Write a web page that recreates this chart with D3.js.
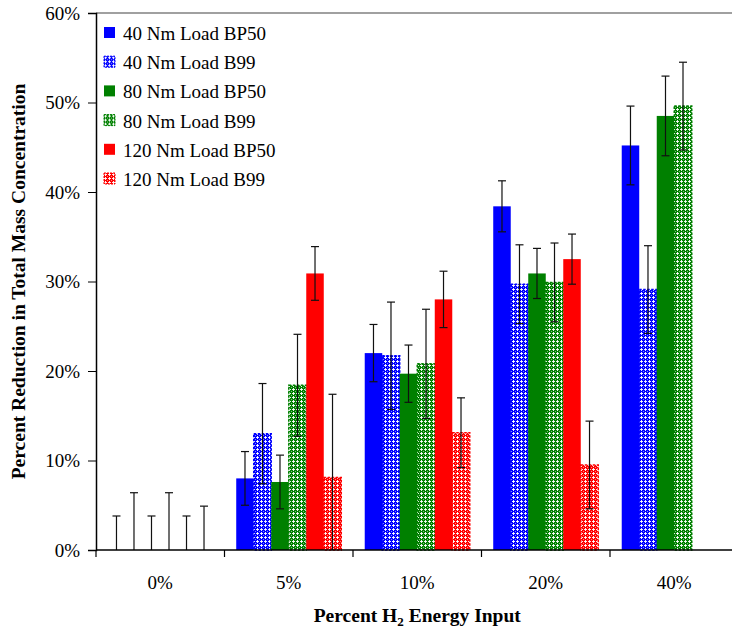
<!DOCTYPE html>
<html lang="en">
<head>
    <meta charset="UTF-8">
    <title>Percent Reduction in Total Mass Concentration</title>
    <script src="https://d3js.org/d3.v7.min.js"></script>
    <style>
        body { margin: 0; background: #fff; }
        svg text { font-family: "Liberation Serif", "Times New Roman", serif; fill: #000; }
    </style>
</head>
<body>
    <svg id="chart" width="732" height="629"></svg>

    <script>
        // Datos
        const categories = ["0%", "5%", "10%", "20%", "40%"];
        const seriesNames = ["40 Nm Load BP50", "40 Nm Load B99", "80 Nm Load BP50",
                             "80 Nm Load B99", "120 Nm Load BP50", "120 Nm Load B99"];
        const seriesColors = ["#0000ff", "#0000ff", "#008000", "#008000", "#ff0000", "#ff0000"];
        const seriesPatterned = [false, true, false, true, false, true];

        const load40BP50 = [0, 8.0, 22.0, 38.4, 45.2];
        const load40B99 = [0, 13.0, 21.7, 29.7, 29.1];
        const load80BP50 = [0, 7.6, 19.7, 30.9, 48.5];
        const load80B99 = [0, 18.4, 20.8, 29.9, 49.6];
        const load120BP50 = [0, 30.9, 28.0, 32.5, null];
        const load120B99 = [0, 8.1, 13.1, 9.5, null];

        const err40BP50 = [3.8, 3.0, 3.2, 2.85, 4.4];
        const err40B99 = [6.4, 5.6, 6.0, 4.4, 4.9];
        const err80BP50 = [3.8, 3.0, 3.2, 2.8, 4.45];
        const err80B99 = [6.4, 5.7, 6.1, 4.4, 4.9];
        const err120BP50 = [3.8, 3.0, 3.15, 2.8, null];
        const err120B99 = [4.9, 9.3, 3.9, 4.9, null];

        const yTicks = [0, 10, 20, 30, 40, 50, 60];

        const allValues = [load40BP50, load40B99, load80BP50, load80B99, load120BP50, load120B99];
        const allErrors = [err40BP50, err40B99, err80BP50, err80B99, err120BP50, err120B99];

        const rows = [];
        categories.forEach((c, ci) => {
            seriesNames.forEach((s, si) => {
                if (allValues[si][ci] !== null) {
                    rows.push({cat: c, series: s, si: si, value: allValues[si][ci], err: allErrors[si][ci]});
                }
            });
        });

        // Dimensiones
        const plotLeft = 96, plotTop = 13, plotBottom = 550, plotRight = 738.5;
        const svg = d3.select("#chart");

        // Patrones para las series B99
        const defs = svg.append("defs");
        seriesColors.forEach((col, i) => {
            if (!seriesPatterned[i]) return;
            const p = defs.append("pattern")
                .attr("id", "pat" + i)
                .attr("patternUnits", "userSpaceOnUse")
                .attr("width", 4).attr("height", 4);
            p.append("rect").attr("width", 4).attr("height", 4).attr("fill", col);
            p.append("rect").attr("x", 0).attr("y", 1).attr("width", 3).attr("height", 1).attr("fill", "#fff").attr("opacity", 0.9);
            p.append("rect").attr("x", 1).attr("y", 0).attr("width", 1).attr("height", 3).attr("fill", "#fff").attr("opacity", 0.9);
            p.append("rect").attr("x", 3).attr("y", 3).attr("width", 1).attr("height", 1).attr("fill", "#fff").attr("opacity", 0.5);
        });
        const fillFor = i => seriesPatterned[i] ? `url(#pat${i})` : seriesColors[i];

        // Escalas
        const x = d3.scaleBand().domain(categories).range([plotLeft, plotRight]).paddingInner(0).paddingOuter(0);
        const xs = d3.scaleBand().domain(seriesNames).range([0, x.bandwidth()]).paddingInner(0).paddingOuter(0.67);
        const y = d3.scaleLinear().domain([0, 60]).range([plotBottom, plotTop]);

        // Borde superior del área
        svg.append("line")
           .attr("x1", plotLeft).attr("x2", 732)
           .attr("y1", plotTop).attr("y2", plotTop)
           .attr("stroke", "#808080").attr("stroke-width", 1.5);

        // Barras
        const bars = svg.append("g");
        bars.selectAll("rect")
            .data(rows.filter(d => d.value > 0))
            .enter()
            .append("rect")
            .attr("x", d => x(d.cat) + xs(d.series))
            .attr("y", d => y(d.value))
            .attr("width", xs.bandwidth())
            .attr("height", d => y(0) - y(d.value))
            .attr("fill", d => fillFor(d.si))
            .attr("stroke", d => seriesPatterned[d.si] ? seriesColors[d.si] : "none")
            .attr("stroke-width", 1.5)
            .attr("stroke-dasharray", "2.5,1.5");

        // Barras de error
        const errG = svg.append("g").attr("stroke", "#111").attr("stroke-width", 1.2);
        rows.forEach(d => {
            const cx = x(d.cat) + xs(d.series) + xs.bandwidth() / 2;
            const hi = d.value + d.err, lo = d.value - d.err;
            errG.append("line")
                .attr("x1", cx).attr("x2", cx)
                .attr("y1", y(hi)).attr("y2", y(Math.max(lo, 0)));
            errG.append("line")
                .attr("x1", cx - 4).attr("x2", cx + 4)
                .attr("y1", y(hi)).attr("y2", y(hi));
            if (lo > 0) {
                errG.append("line")
                    .attr("x1", cx - 4).attr("x2", cx + 4)
                    .attr("y1", y(lo)).attr("y2", y(lo));
            }
        });

        // Eje Y
        const yAxis = svg.append("g")
            .attr("transform", `translate(${plotLeft},0)`)
            .call(d3.axisLeft(y).tickValues(yTicks).tickSize(8).tickPadding(8).tickFormat(d => d + "%"));
        yAxis.select(".domain").attr("stroke", "#000").attr("stroke-width", 1.5);
        yAxis.selectAll("text").attr("font-size", "19px");

        // Eje X
        const xAxis = svg.append("g")
            .attr("transform", `translate(0,${plotBottom})`)
            .call(d3.axisBottom(x).tickSize(0).tickPadding(26));
        xAxis.select(".domain").remove();
        xAxis.selectAll("text").attr("font-size", "19px");
        svg.append("line")
           .attr("x1", plotLeft).attr("x2", 732)
           .attr("y1", plotBottom).attr("y2", plotBottom)
           .attr("stroke", "#000").attr("stroke-width", 1.5);
        // marcas entre categorías
        svg.append("g").selectAll("line")
           .data(categories)
           .enter()
           .append("line")
           .attr("x1", d => x(d)).attr("x2", d => x(d))
           .attr("y1", plotBottom).attr("y2", plotBottom + 7)
           .attr("stroke", "#000").attr("stroke-width", 1.2);

        // Títulos de ejes
        svg.append("text")
           .attr("transform", `translate(25,${(plotTop + plotBottom) / 2}) rotate(-90)`)
           .attr("text-anchor", "middle")
           .attr("font-size", "19.5px")
           .attr("font-weight", "bold")
           .text("Percent Reduction in Total Mass Concentration");

        const xt = svg.append("text")
           .attr("x", (plotLeft + plotRight) / 2)
           .attr("y", 622)
           .attr("text-anchor", "middle")
           .attr("font-size", "19.5px")
           .attr("font-weight", "bold");
        xt.append("tspan").text("Percent H");
        xt.append("tspan").attr("font-size", "13px").attr("dy", 4).text("2");
        xt.append("tspan").attr("dy", -4).text(" Energy Input");

        // Leyenda
        const legend = svg.append("g").selectAll("g")
            .data(seriesNames)
            .enter()
            .append("g")
            .attr("transform", (d, i) => `translate(104,${27 + i * 29.2})`);
        legend.append("rect")
            .attr("width", 11).attr("height", 11)
            .attr("fill", (d, i) => fillFor(i))
            .attr("stroke", (d, i) => seriesPatterned[i] ? seriesColors[i] : "none")
            .attr("stroke-width", 1)
            .attr("stroke-dasharray", "2,1");
        legend.append("text")
            .attr("x", 19).attr("y", 13)
            .attr("font-size", "19px")
            .text(d => d);
    </script>
</body>
</html>
